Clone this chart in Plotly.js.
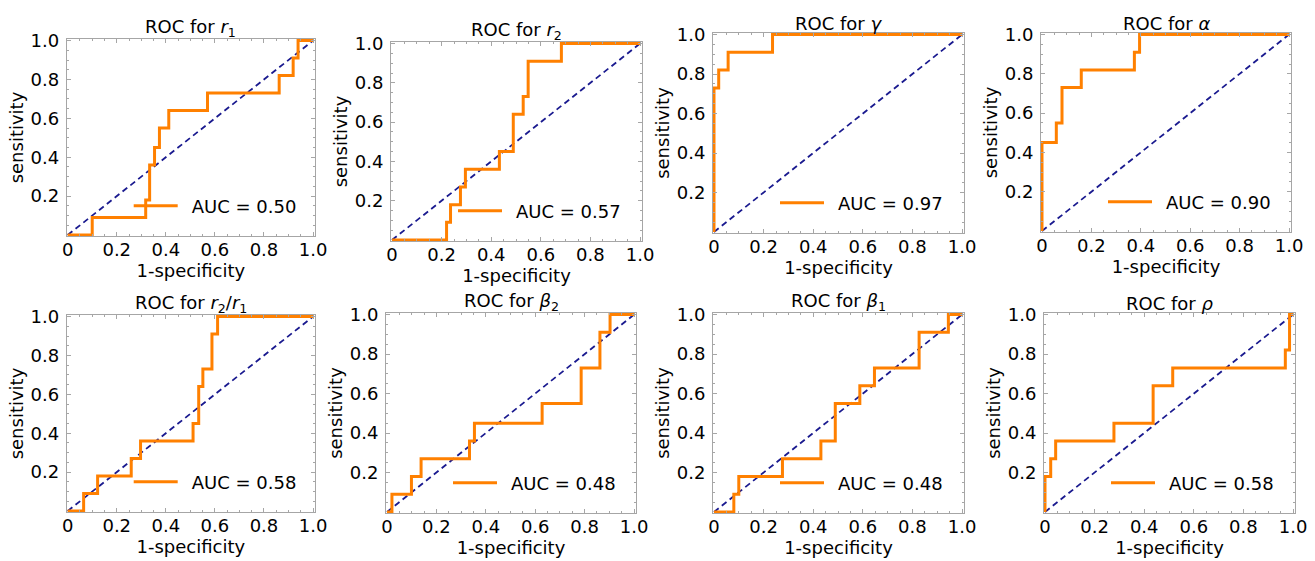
<!DOCTYPE html>
<html>
<head>
<meta charset="utf-8">
<script src="https://cdn.plot.ly/plotly-3.0.1.min.js"></script>
<style>html,body{margin:0;padding:0;background:#fff;}#chart{width:1315px;height:561px;}</style>
</head>
<body>
<div id="chart"></div>
<script>
// ---- data ----
const titles = ["ROC for <i>r</i><sub>1</sub>", "ROC for <i>r</i><sub>2</sub>", "ROC for <i>γ</i>", "ROC for <i>α</i>",
                "ROC for <i>r</i><sub>2</sub>/<i>r</i><sub>1</sub>", "ROC for <i>β</i><sub>2</sub>", "ROC for <i>β</i><sub>1</sub>", "ROC for <i>ρ</i>"];
const aucValues = [0.50, 0.57, 0.97, 0.90, 0.58, 0.48, 0.48, 0.58];

const fpr_r1 = [0, 0.10, 0.318, 0.334, 0.354, 0.374, 0.412, 0.570, 0.862, 0.919, 0.939, 1.0];
const tpr_r1 = [0, 0.09, 0.18, 0.36, 0.45, 0.55, 0.64, 0.73, 0.82, 0.91, 1.0, 1.0];
const fpr_r2 = [0, 0.22, 0.236, 0.276, 0.296, 0.433, 0.489, 0.529, 0.549, 0.683, 1.0];
const tpr_r2 = [0, 0.09, 0.18, 0.27, 0.36, 0.45, 0.64, 0.73, 0.91, 1.0, 1.0];
const fpr_gamma = [0, 0, 0.019, 0.057, 0.236, 1.0];
const tpr_gamma = [0, 0.73, 0.82, 0.91, 1.0, 1.0];
const fpr_alpha = [0, 0, 0.058, 0.081, 0.159, 0.374, 0.395, 1.0];
const tpr_alpha = [0, 0.45, 0.55, 0.73, 0.82, 0.91, 1.0, 1.0];
const fpr_ratio = [0, 0.065, 0.122, 0.259, 0.297, 0.511, 0.534, 0.551, 0.588, 0.611, 1.0];
const tpr_ratio = [0, 0.09, 0.18, 0.27, 0.36, 0.45, 0.64, 0.73, 0.91, 1.0, 1.0];
const fpr_beta2 = [0, 0.02, 0.099, 0.138, 0.334, 0.354, 0.628, 0.786, 0.862, 0.903, 1.0];
const tpr_beta2 = [0, 0.09, 0.18, 0.27, 0.36, 0.45, 0.55, 0.73, 0.91, 1.0, 1.0];
const fpr_beta1 = [0, 0.08, 0.10, 0.276, 0.431, 0.489, 0.588, 0.647, 0.827, 0.945, 1.0];
const tpr_beta1 = [0, 0.09, 0.18, 0.27, 0.36, 0.55, 0.64, 0.73, 0.91, 1.0, 1.0];
const fpr_rho = [0, 0, 0.023, 0.043, 0.278, 0.436, 0.515, 0.969, 0.986, 1.0];
const tpr_rho = [0, 0.18, 0.27, 0.36, 0.45, 0.64, 0.73, 0.82, 1.0, 1.0];

const chanceX = [0, 1];
const chanceY = [0, 1];

const xTickVals = [0, 0.2, 0.4, 0.6, 0.8, 1.0];
const xTickText = ["0", "0.2", "0.4", "0.6", "0.8", "1.0"];
const yTickVals = [0.2, 0.4, 0.6, 0.8, 1.0];
const yTickText = ["0.2", "0.4", "0.6", "0.8", "1.0"];

const fprs = [fpr_r1, fpr_r2, fpr_gamma, fpr_alpha, fpr_ratio, fpr_beta2, fpr_beta1, fpr_rho];
const tprs = [tpr_r1, tpr_r2, tpr_gamma, tpr_alpha, tpr_ratio, tpr_beta2, tpr_beta1, tpr_rho];

// ---- layout geometry (pixels) ----
const W = 1315, H = 561;
const boxes = [ // left, right, top, bottom
  [66.7, 315, 39, 236], [391, 642, 42, 241], [713, 964, 33, 233], [1041, 1291, 33, 232],
  [66.7, 315, 315, 512], [386, 636, 313, 513], [713, 964, 313, 513], [1044, 1295, 313, 513]
];

const FONT = "DejaVu Sans, Liberation Sans, Arial, sans-serif";
const FS = 18;
const orange = "#FF8000";
const navy = "#1a1a8f";
const frame = "#a6a6a6";

const traces = [];
const layout = {
  width: W, height: H,
  margin: {l: 0, r: 0, t: 0, b: 0},
  paper_bgcolor: "#fff", plot_bgcolor: "#fff",
  font: {family: FONT, size: FS, color: "#000"},
  showlegend: true,
  annotations: []
};

for (let i = 0; i < 8; i++) {
  const n = i + 1;
  const xa = n === 1 ? "x" : "x" + n;
  const ya = n === 1 ? "y" : "y" + n;
  const lg = n === 1 ? "legend" : "legend" + n;
  const [l, r, t, b] = boxes[i];

  traces.push({
    x: chanceX, y: chanceY, xaxis: xa, yaxis: ya, mode: "lines",
    line: {color: navy, width: 1.8, dash: "6px,4px"},
    showlegend: false, hoverinfo: "skip"
  });
  traces.push({
    x: fprs[i], y: tprs[i], xaxis: xa, yaxis: ya, mode: "lines",
    line: {color: orange, width: 3, shape: "hv"},
    name: "\u2002AUC = " + aucValues[i].toFixed(2),
    legend: lg, showlegend: true
  });

  const axCommon = {
    showline: true, linecolor: frame, linewidth: 1, mirror: "allticks",
    ticks: "inside", ticklen: 4, tickcolor: frame, tickwidth: 1,
    showgrid: false, zeroline: false, fixedrange: true,
    tickfont: {family: FONT, size: FS, color: "#000"},
    minor: {tickmode: "linear", tick0: 0, dtick: 0.05, ticks: "inside", ticklen: 2, tickcolor: frame, showgrid: false},
    automargin: false
  };
  layout["xaxis" + (n === 1 ? "" : n)] = Object.assign({}, axCommon, {
    domain: [l / W, r / W], anchor: ya, range: [-0.004, 1.008],
    tickmode: "array", tickvals: xTickVals, ticktext: xTickText,
    ticklabelstandoff: -3,
    title: {text: "1-specificity", font: {family: FONT, size: FS}, standoff: 0}
  });
  layout["yaxis" + (n === 1 ? "" : n)] = Object.assign({}, axCommon, {
    domain: [(H - b) / H, (H - t) / H], anchor: xa, range: [-0.005, 1.008],
    tickmode: "array", tickvals: yTickVals, ticktext: yTickText,
    ticklabelstandoff: 3,
    title: {text: "sensitivity", font: {family: FONT, size: FS}, standoff: 2}
  });
  layout[lg] = {
    x: (l + 62) / W, y: (H - b + 30) / H, xanchor: "left", yanchor: "middle",
    bgcolor: "rgba(0,0,0,0)", borderwidth: 0, itemwidth: 44,
    font: {family: FONT, size: FS, color: "#000"}
  };
  layout.annotations.push({
    text: titles[i], xref: "paper", yref: "paper",
    x: (l + r) / 2 / W, y: (H - t) / H, xanchor: "center", yanchor: "bottom",
    showarrow: false, font: {family: FONT, size: FS, color: "#000"}, yshift: -3
  });
}

Plotly.newPlot("chart", traces, layout, {staticPlot: true, displayModeBar: false});
</script>
</body>
</html>
